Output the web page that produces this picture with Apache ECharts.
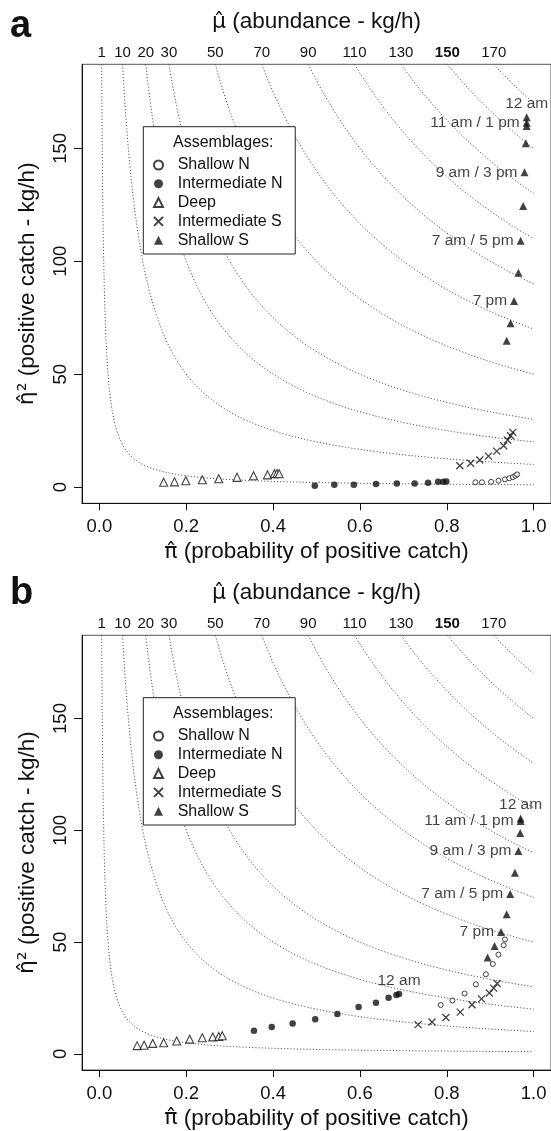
<!DOCTYPE html>
<html>
<head>
<meta charset="utf-8">
<script src="https://cdn.jsdelivr.net/npm/echarts@6/dist/echarts.min.js"></script>
<style>
  html, body { margin: 0; padding: 0; background: #fff; }
  #chart { width: 551px; height: 1131px; }
</style>
</head>
<body>
<div id="chart"></div>
<script>
  // iso-abundance lines (mu = pi * eta) and axis ticks
  const muLevels = [1, 10, 20, 30, 50, 70, 90, 110, 130, 150, 170]
  const xTicks = [0, 0.2, 0.4, 0.6, 0.8, 1.0]
  const yTicks = [0, 50, 100, 150]
  const ETA_TOP = 187.2 // ylim c(0, 180) + 4%

  const names = ['Shallow N', 'Intermediate N', 'Deep', 'Intermediate S', 'Shallow S']

  // panel a  [pi, eta^2]
  const aShallowN = [[0.866, 2.1], [0.881, 2.1], [0.902, 2.3], [0.919, 2.8], [0.934, 3.4], [0.944, 3.9], [0.952, 4.4], [0.958, 5.0], [0.962, 5.6]]
  const aInterN = [[0.496, 0.6], [0.541, 1.0], [0.586, 1.0], [0.637, 1.3], [0.685, 1.6], [0.726, 1.6], [0.757, 1.9], [0.780, 2.3], [0.792, 2.3], [0.799, 2.4]]
  const aDeep = [[0.148, 2.1], [0.173, 2.3], [0.199, 2.8], [0.237, 3.2], [0.275, 3.7], [0.317, 4.3], [0.355, 5.0], [0.387, 5.4], [0.403, 5.9], [0.409, 6.0], [0.414, 5.9]]
  const aInterS = [[0.830, 9.4], [0.855, 10.5], [0.876, 12.0], [0.896, 13.7], [0.915, 15.9], [0.931, 18.3], [0.940, 20.8], [0.947, 22.7], [0.952, 24.2]]
  const aShallowS = [[0.984, 163.7], [0.984, 161.3], [0.984, 159.9], [0.982, 152.2], [0.979, 139.4], [0.976, 124.4], [0.970, 109.1], [0.965, 94.9], [0.955, 82.4], [0.947, 72.5], [0.938, 64.8]]
  const aShallowSLabels = ['12 am', '11 am / 1 pm', '', '', '9 am / 3 pm', '', '7 am / 5 pm', '', '7 pm', '', '']

  // panel b
  const bShallowN = [[0.934, 51.2], [0.931, 48.6], [0.919, 44.4], [0.906, 40.2], [0.890, 35.6], [0.867, 31.1], [0.841, 27.0], [0.813, 23.9], [0.786, 21.9]]
  const bInterN = [[0.356, 10.4], [0.397, 12.0], [0.445, 13.6], [0.497, 15.5], [0.548, 17.8], [0.597, 21.0], [0.637, 22.9], [0.666, 25.1], [0.684, 26.3], [0.690, 26.8]]
  const bInterNLabels = ['', '', '', '', '', '', '', '', '', '12 am']
  const bDeep = [[0.087, 3.7], [0.103, 3.9], [0.123, 4.7], [0.148, 5.0], [0.178, 5.8], [0.208, 6.6], [0.237, 7.2], [0.261, 7.6], [0.275, 7.8], [0.283, 8.1]]
  const bInterS = [[0.734, 13.1], [0.766, 14.3], [0.798, 16.3], [0.831, 18.7], [0.858, 22.0], [0.880, 24.6], [0.898, 27.2], [0.908, 29.4], [0.916, 31.5]]
  const bShallowS = [[0.970, 105.3], [0.970, 104.1], [0.969, 98.8], [0.965, 90.7], [0.957, 81.0], [0.946, 71.5], [0.938, 62.4], [0.925, 54.5], [0.910, 48.3], [0.894, 43.1]]
  const bShallowSLabels = ['12 am', '11 am / 1 pm', '', '9 am / 3 pm', '', '7 am / 5 pm', '', '7 pm', '', '']

  const FONT = 'Liberation Sans, Arial, Helvetica, sans-serif'
  const HAT_FONT = 'DejaVu Sans, Noto Sans, sans-serif'
  const INK = '#111'
  const DY = 571 // vertical offset of panel b

  function isoLine (mu) {
    const pts = []
    const p0 = mu / ETA_TOP
    const n = 160
    for (let k = 0; k <= n; k++) {
      const p = p0 * Math.pow(1 / p0, k / n)
      pts.push([p, mu / p])
    }
    return pts
  }

  function withLabels (pts, labels) {
    return pts.map((p, i) => {
      if (!labels || !labels[i]) return p
      return {
        value: p,
        label: {
          show: true,
          formatter: labels[i],
          position: labels[i] === '12 am' ? 'top' : 'left',
          distance: labels[i] === '12 am' ? 2 : 3,
          fontSize: 15.5,
          fontFamily: FONT,
          color: INK,
          textBorderWidth: 0
        }
      }
    })
  }

  const symbolStyle = {
    'Shallow N': { symbol: 'circle', symbolSize: 5, itemStyle: { color: '#fff', borderColor: INK, borderWidth: 1 } },
    'Intermediate N': { symbol: 'circle', symbolSize: 6.5, itemStyle: { color: INK } },
    'Deep': { symbol: 'triangle', symbolSize: 8, itemStyle: { color: '#fff', borderColor: INK, borderWidth: 1.1 } },
    'Intermediate S': { symbol: 'path://M0,0L10,10M10,0L0,10', symbolSize: 7, itemStyle: { color: 'transparent', borderColor: INK, borderWidth: 1.3 } },
    'Shallow S': { symbol: 'triangle', symbolSize: 8, itemStyle: { color: INK } }
  }

  function panelSeries (g, sets) {
    const out = []
    muLevels.forEach(mu => {
      out.push({
        type: 'line',
        xAxisIndex: g * 2,
        yAxisIndex: g,
        data: isoLine(mu),
        showSymbol: false,
        silent: true,
        clip: true,
        z: 1,
        lineStyle: { color: '#555', width: 1, type: [1.2, 2] }
      })
    })
    names.forEach((nm, i) => {
      out.push(Object.assign({
        name: nm,
        type: 'scatter',
        xAxisIndex: g * 2,
        yAxisIndex: g,
        data: sets[i],
        z: 3
      }, symbolStyle[nm]))
    })
    return out
  }

  const grids = [
    { left: 82, top: 64.3, width: 472.5, height: 439 },
    { left: 82, top: 64.3 + DY, width: 472.5, height: 439 }
  ].map(gr => Object.assign(gr, { show: true, borderColor: '#555', borderWidth: 1, backgroundColor: 'transparent' }))

  const titleRich = { h: { fontFamily: HAT_FONT, fontSize: 22, color: INK } }

  function bottomAxis (g) {
    return {
      type: 'value', gridIndex: g, position: 'bottom', min: -0.04, max: 1.04,
      name: '{h|π\u0302} (probability of positive catch)', nameLocation: 'middle', nameGap: 37,
      nameTextStyle: { fontSize: 22.5, fontFamily: FONT, color: INK, rich: titleRich },
      axisLine: { show: true, onZero: false, lineStyle: { color: INK, width: 1 } },
      axisTick: { show: true, length: 7, customValues: xTicks, lineStyle: { color: INK } },
      axisLabel: { customValues: xTicks, margin: 14, fontSize: 18.5, fontFamily: FONT, color: INK, formatter: v => v.toFixed(1) },
      splitLine: { show: false }
    }
  }

  function topAxis (g) {
    return {
      type: 'value', gridIndex: g, position: 'top', min: -0.04, max: 1.04,
      name: '{h|μ\u0302} (abundance - kg/h)', nameLocation: 'middle', nameGap: 31,
      nameTextStyle: { fontSize: 22.5, fontFamily: FONT, color: INK, rich: titleRich },
      axisLine: { show: false },
      axisTick: { show: false },
      axisLabel: {
        customValues: muLevels.map(m => m / ETA_TOP),
        margin: 4, fontSize: 15, fontFamily: FONT, color: INK,
        formatter: v => {
          const m = Math.round(v * ETA_TOP)
          return m === 150 ? '{b|150}' : String(m)
        },
        rich: { b: { fontWeight: 'bold', fontSize: 15, fontFamily: FONT, color: INK } }
      },
      splitLine: { show: false }
    }
  }

  function leftAxis (g) {
    return {
      type: 'value', gridIndex: g, min: -7.2, max: ETA_TOP,
      name: '{h|η\u0302²} (positive catch - kg/h)', nameLocation: 'middle', nameGap: 43,
      nameTextStyle: { fontSize: 22.5, fontFamily: FONT, color: INK, rich: titleRich },
      axisLine: { show: true, onZero: false, lineStyle: { color: INK, width: 1 } },
      axisTick: { show: true, length: 8, customValues: yTicks, lineStyle: { color: INK } },
      axisLabel: { customValues: yTicks, rotate: 90, margin: 12, fontSize: 18.5, fontFamily: FONT, color: INK },
      splitLine: { show: false }
    }
  }

  function legendFor (top) {
    return {
      left: 143.3, top: top, orient: 'vertical', data: names,
      itemWidth: 9, itemHeight: 9, itemGap: 0,
      padding: [28.9, 12.6, 4.4, 9.7],
      borderColor: '#222', borderWidth: 1, backgroundColor: '#fff',
      selectedMode: false, z: 5,
      textStyle: { fontSize: 16, lineHeight: 18.8, fontFamily: FONT, color: INK, padding: [0, 0, 0, 9.7] }
    }
  }

  const chart = echarts.init(document.getElementById('chart'), null, { renderer: 'canvas' })
  chart.setOption({
    animation: false,
    backgroundColor: '#fff',
    textStyle: { fontFamily: FONT },
    grid: grids,
    xAxis: [bottomAxis(0), topAxis(0), bottomAxis(1), topAxis(1)],
    yAxis: [leftAxis(0), leftAxis(1)],
    legend: [legendFor(126.7), legendFor(126.7 + DY)],
    title: [
      { text: 'Assemblages:', left: 168, top: 130, z: 10, textStyle: { fontSize: 16, fontWeight: 'normal', fontFamily: FONT, color: INK } },
      { text: 'Assemblages:', left: 168, top: 130 + DY, z: 10, textStyle: { fontSize: 16, fontWeight: 'normal', fontFamily: FONT, color: INK } }
    ],
    graphic: [
      { type: 'text', left: 10, top: 8, style: { text: 'a', font: 'bold 38px ' + FONT, fill: '#111' } },
      { type: 'text', left: 10, top: 8 + DY - 4, style: { text: 'b', font: 'bold 38px ' + FONT, fill: '#111' } }
    ],
    series: [].concat(
      panelSeries(0, [aShallowN, aInterN, aDeep, aInterS, withLabels(aShallowS, aShallowSLabels)]),
      panelSeries(1, [bShallowN, withLabels(bInterN, bInterNLabels), bDeep, bInterS, withLabels(bShallowS, bShallowSLabels)])
    )
  })
</script>
</body>
</html>
